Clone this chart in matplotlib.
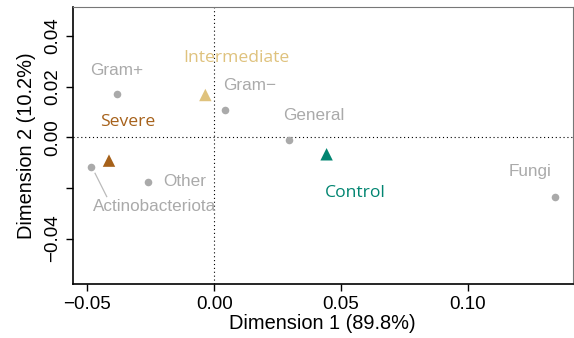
import matplotlib.pyplot as plt

# variable loadings (grey points)
var_names = ["Gram+", "Gram\u2212", "General", "Actinobacteriota", "Other", "Fungi"]
var_x = [-0.0385, 0.0041, 0.0295, -0.0486, -0.0263, 0.1345]
var_y = [0.0172, 0.0109, -0.0011, -0.0118, -0.0175, -0.0235]
var_lx = [-0.0385, 0.0141, 0.0394, -0.0237, -0.0116, 0.1245]
var_ly = [0.0265, 0.0205, 0.0085, -0.0274, -0.0175, -0.0133]

# group centroids (triangles)
grp_names = ["Intermediate", "Severe", "Control"]
grp_x = [-0.0035, -0.0415, 0.0443]
grp_y = [0.0167, -0.0092, -0.0067]
grp_lx = [0.0086, -0.0343, 0.0555]
grp_ly = [0.0312, 0.0062, -0.0221]
grp_cols = ["#DFC27D", "#A6611A", "#018571"]

grey = "#AAAAAA"

fig = plt.figure(figsize=(5.74, 3.38), dpi=100)
ax = fig.add_axes([0.1267, 0.1598, 0.8713, 0.8192])
ax.set_xlim(-0.0558, 0.1414)
ax.set_ylim(-0.0579, 0.0514)

ax.axhline(0, color="black", lw=0.8, ls=(0, (1, 2.5)), zorder=1)
ax.axvline(0, color="black", lw=0.8, ls=(0, (1, 2.5)), zorder=1)

ax.scatter(var_x, var_y, s=30, color=grey, zorder=3, linewidths=0)
for n, lx, ly in zip(var_names, var_lx, var_ly):
    ax.text(lx, ly, n, color=grey, fontsize=12.3, ha="center", va="center",
            family="Liberation Sans", zorder=4)
# leader line for Actinobacteriota
ax.plot([-0.0470, -0.0424], [-0.0142, -0.0234], color="#BBBBBB", lw=0.9, zorder=2)

ax.scatter(grp_x, grp_y, s=80, marker="^", color=grp_cols, zorder=3, linewidths=0)
for n, lx, ly, c in zip(grp_names, grp_lx, grp_ly, grp_cols):
    ax.text(lx, ly, n, color=c, fontsize=12.6, ha="center", va="center",
            family="Open Sans", zorder=4)

ax.set_xticks([-0.05, 0.0, 0.05, 0.10])
ax.set_xticklabels(["\u22120.05", "0.00", "0.05", "0.10"])
ax.set_yticks([-0.04, -0.02, 0.0, 0.02, 0.04])
ax.set_yticklabels(["\u22120.04", "", "0.00", "0.02", "0.04"], rotation=90, va="center")
ax.tick_params(direction="out", length=5, width=1, labelsize=13.5)
for lab in ax.get_xticklabels() + ax.get_yticklabels():
    lab.set_family("Liberation Sans")

for s in ["top", "right"]:
    ax.spines[s].set_color("#777777")
    ax.spines[s].set_linewidth(0.8)
for s in ["left", "bottom"]:
    ax.spines[s].set_linewidth(1.2)

ax.set_xlabel("Dimension 1 (89.8%)", fontsize=14.4, family="Liberation Sans", labelpad=1)
ax.set_ylabel("Dimension 2 (10.2%)", fontsize=14.4, family="Liberation Sans", labelpad=6)

fig.savefig("out.png", dpi=100)
